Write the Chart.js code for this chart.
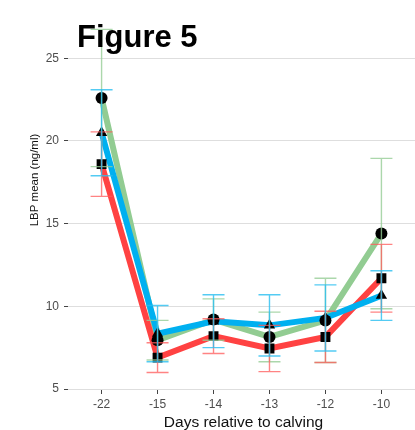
<!DOCTYPE html>
<html>
<head>
<meta charset="utf-8">
<style>
  html, body { margin: 0; padding: 0; background: #fff; width: 415px; height: 430px; overflow: hidden; }
  canvas { display: block; }
</style>
<script src="https://cdn.jsdelivr.net/npm/chart.js@4/dist/chart.umd.min.js"></script>
</head>
<body>
<canvas id="c" width="422" height="430"></canvas>
<script>
// Days relative to calving (x categories)
const days = ['-22', '-15', '-14', '-13', '-12', '-10'];

// LBP mean (ng/ml) and error half-widths per group
const circleMean = [22.6, 7.95, 9.2, 8.15, 9.15, 14.4];
const circleErr  = [4.15, 1.2, 1.25, 1.5, 2.55, 4.55];

const triangleMean = [20.5, 8.35, 9.1, 8.85, 9.3, 10.65];
const triangleErr  = [2.6, 1.7, 1.6, 1.85, 2.0, 1.5];

const squareMean = [18.6, 6.9, 8.2, 7.45, 8.15, 11.7];
const squareErr  = [1.95, 0.9, 1.05, 1.4, 1.55, 2.05];

const yTicks = [5, 10, 15, 20, 25];

const FONT = '"Liberation Sans", Arial, sans-serif';
const AXIS_GREY = '#4d4d4d';

const groups = [
  { mean: circleMean,   err: circleErr,   line: 'rgb(146,204,146)', bar: 'rgba(150,205,150,0.8)', shape: 'circle',   r: 6 },
  { mean: squareMean,   err: squareErr,   line: 'rgb(255,66,66)',   bar: 'rgba(255,90,90,0.75)',  shape: 'rect',     r: 7 },
  { mean: triangleMean, err: triangleErr, line: 'rgb(0,176,240)',   bar: 'rgba(40,190,240,0.8)',  shape: 'triangle', r: 6.5 }
];

const toPoints = arr => arr.map((v, i) => ({ x: i, y: v }));

const datasets = [];
groups.forEach((g, k) => {
  datasets.push({
    data: toPoints(g.mean),
    borderColor: g.line,
    borderWidth: 6,
    pointRadius: 0,
    tension: 0,
    fill: false,
    order: 20 - k
  });
});
groups.forEach((g, k) => {
  datasets.push({
    data: toPoints(g.mean),
    showLine: false,
    pointStyle: g.shape,
    pointRadius: g.r,
    pointBackgroundColor: '#000',
    pointBorderWidth: 0,
    order: 5 - k
  });
});

const errorBars = {
  id: 'errorBars',
  afterDatasetsDraw(chart) {
    const ctx = chart.ctx;
    const xs = chart.scales.x, ys = chart.scales.y;
    ctx.save();
    ctx.lineWidth = 1.4;
    groups.forEach(g => {
      ctx.strokeStyle = g.bar;
      g.mean.forEach((m, i) => {
        const x = xs.getPixelForValue(i);
        const yHi = ys.getPixelForValue(m + g.err[i]);
        const yLo = ys.getPixelForValue(m - g.err[i]);
        ctx.beginPath();
        ctx.moveTo(x, yHi); ctx.lineTo(x, yLo);
        ctx.moveTo(x - 11, yHi); ctx.lineTo(x + 11, yHi);
        ctx.moveTo(x - 11, yLo); ctx.lineTo(x + 11, yLo);
        ctx.stroke();
      });
    });
    ctx.restore();
  }
};

const labelsPlugin = {
  id: 'labelsPlugin',
  afterDraw(chart) {
    const ctx = chart.ctx;
    ctx.save();
    // x-axis title
    ctx.fillStyle = '#111';
    ctx.font = '15.5px ' + FONT;
    ctx.textAlign = 'center';
    ctx.textBaseline = 'alphabetic';
    ctx.fillText('Days relative to calving', 243.5, 426.5);
    // y-axis title
    ctx.save();
    ctx.translate(35, 180);
    ctx.rotate(-Math.PI / 2);
    ctx.font = '11.5px ' + FONT;
    ctx.textBaseline = 'middle';
    ctx.fillText('LBP mean (ng/ml)', 0, 0);
    ctx.restore();
    // figure heading
    ctx.fillStyle = '#000';
    ctx.font = 'bold 31px ' + FONT;
    ctx.textAlign = 'left';
    ctx.fillText('Figure 5', 77, 47);
    ctx.restore();
  }
};

new Chart(document.getElementById('c'), {
  type: 'line',
  data: { datasets },
  options: {
    responsive: false,
    devicePixelRatio: 1,
    animation: false,
    layout: { padding: { top: 11, right: 0, bottom: 0, left: 0 } },
    plugins: { legend: { display: false }, tooltip: { enabled: false } },
    scales: {
      x: {
        type: 'linear',
        min: -0.6,
        max: 5.6,
        afterBuildTicks: s => { s.ticks = days.map((d, i) => ({ value: i })); },
        afterFit: s => { s.height = 40; },
        ticks: {
          callback: v => days[Math.round(v)],
          color: AXIS_GREY,
          font: { size: 12, family: FONT },
          padding: 3,
          maxRotation: 0,
          autoSkip: false
        },
        grid: { drawOnChartArea: false, tickLength: 4, tickColor: '#444', tickWidth: 1 },
        border: { display: false }
      },
      y: {
        type: 'linear',
        min: 4.94,
        max: 27.79,
        afterBuildTicks: s => { s.ticks = yTicks.map(v => ({ value: v })); },
        afterFit: s => { s.width = 68; },
        ticks: {
          color: AXIS_GREY,
          font: { size: 12, family: FONT },
          padding: 5
        },
        grid: { color: '#dedede', lineWidth: 1, tickLength: 4, tickColor: '#444', tickWidth: 1 },
        border: { display: false }
      }
    }
  },
  plugins: [errorBars, labelsPlugin]
});
</script>
</body>
</html>
